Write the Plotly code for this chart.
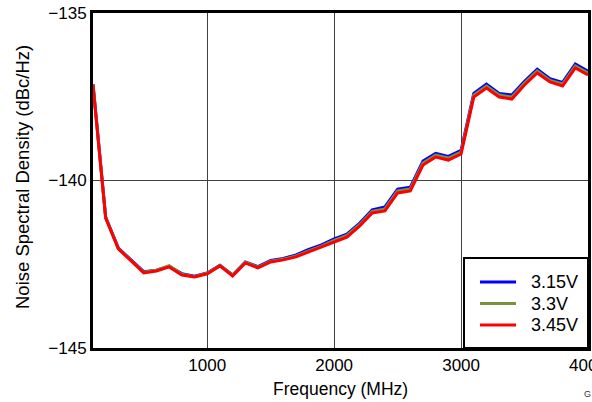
import plotly.graph_objects as go

freq_mhz = [100, 200, 300, 400, 500, 600, 700, 800, 900, 1000,
            1100, 1200, 1300, 1400, 1500, 1600, 1700, 1800, 1900, 2000,
            2100, 2200, 2300, 2400, 2500, 2600, 2700, 2800, 2900, 3000,
            3100, 3200, 3300, 3400, 3500, 3600, 3700, 3800, 3900, 4000]

nsd_315v = [-137.12, -141.10, -142.02, -142.36, -142.72, -142.68, -142.56, -142.78, -142.86, -142.76,
            -142.53, -142.82, -142.43, -142.57, -142.39, -142.33, -142.22, -142.06, -141.92, -141.74,
            -141.60, -141.28, -140.88, -140.79, -140.26, -140.20, -139.42, -139.19, -139.28, -139.10,
            -137.40, -137.12, -137.40, -137.45, -137.04, -136.68, -136.96, -137.07, -136.52, -136.74]

nsd_33v = [-137.13, -141.11, -142.03, -142.38, -142.74, -142.68, -142.54, -142.80, -142.87, -142.77,
           -142.54, -142.83, -142.44, -142.59, -142.41, -142.35, -142.25, -142.10, -141.96, -141.79,
           -141.64, -141.32, -140.92, -140.85, -140.31, -140.25, -139.48, -139.24, -139.33, -139.15,
           -137.45, -137.18, -137.45, -137.51, -137.09, -136.73, -137.01, -137.12, -136.58, -136.79]

nsd_345v = [-137.15, -141.12, -142.04, -142.40, -142.76, -142.70, -142.58, -142.82, -142.88, -142.79,
            -142.55, -142.85, -142.46, -142.61, -142.43, -142.37, -142.28, -142.13, -141.99, -141.84,
            -141.69, -141.36, -140.97, -140.91, -140.37, -140.31, -139.54, -139.30, -139.39, -139.21,
            -137.51, -137.24, -137.51, -137.57, -137.15, -136.79, -137.06, -137.18, -136.64, -136.85]

series_names = ["3.15V", "3.3V", "3.45V"]
series_values = [nsd_315v, nsd_33v, nsd_345v]
series_colors = ["#0000FF", "#77933C", "#FF0000"]

x_ticks = [1000, 2000, 3000, 4000]
y_ticks = [-145, -140, -135]
y_tick_text = ["\u2212145", "\u2212140", "\u2212135"]

FONT = "Liberation Sans, Arial, sans-serif"

# body margin is removed in the page, so the figure fills the window
W, H = 592, 402
# plot area in window pixels: left 93, right 588, top 13, bottom 348
L, T = 93, 13
R = W - 588
B = H - 348
PW, PH = W - L - R, H - T - B


def px(xpix):
    return (xpix - L) / PW


def py(ypix):
    return (H - B - ypix) / PH


fig = go.Figure()
for name, vals, col in zip(series_names, series_values, series_colors):
    fig.add_trace(go.Scatter(x=freq_mhz, y=vals, name=name, mode="lines",
                             line=dict(color=col, width=3), showlegend=False))

shapes = [
    # legend box
    dict(type="rect", xref="paper", yref="paper", x0=px(464), x1=1.0, y0=0.0, y1=py(258),
         fillcolor="white", line=dict(color="black", width=2), layer="above"),
]
annotations = [
    dict(text="Frequency (MHz)", xref="paper", yref="paper", x=px(340), y=py(389),
         xanchor="center", yanchor="middle", showarrow=False, font=dict(size=17.5)),
    dict(text="Noise Spectral Density (dBc/Hz)", xref="paper", yref="paper",
         x=px(23), y=py(177), xanchor="center", yanchor="middle", textangle=-90,
         showarrow=False, font=dict(size=18.5)),
    dict(text="G", xref="paper", yref="paper", x=px(582), y=py(394),
         xanchor="left", yanchor="middle", showarrow=False, font=dict(size=9, color="#333")),
]
row_y = [282, 303.5, 325]
for name, col, ry in zip(series_names, series_colors, row_y):
    shapes.append(dict(type="line", xref="paper", yref="paper", x0=px(480), x1=px(516),
                       y0=py(ry), y1=py(ry), line=dict(color=col, width=3), layer="above"))
    annotations.append(dict(text=name, xref="paper", yref="paper", x=px(529), y=py(ry),
                            xanchor="left", yanchor="middle", showarrow=False,
                            font=dict(size=18)))

fig.update_layout(
    width=W, height=H,
    margin=dict(l=L, r=R, t=T, b=B, autoexpand=False),
    paper_bgcolor="white", plot_bgcolor="white",
    font=dict(family=FONT, size=17, color="black"),
    showlegend=False,
    xaxis=dict(range=[100, 4000], tickvals=x_ticks, showgrid=True, automargin=False,
               gridcolor="#404040", gridwidth=1, showline=True, linecolor="black",
               linewidth=3, mirror=True, ticks="", zeroline=False,
               ticklabeloverflow="allow", tickfont=dict(size=17)),
    yaxis=dict(range=[-145, -135], tickvals=y_ticks, ticktext=y_tick_text, automargin=False,
               showgrid=True, gridcolor="#404040", gridwidth=1, showline=True,
               linecolor="black", linewidth=3, mirror=True, ticks="", zeroline=False,
               ticklabeloverflow="allow", tickfont=dict(size=17)),
    shapes=shapes,
    annotations=annotations,
)

fig.write_html("out.html",
               config={"displayModeBar": False},
               post_script="document.body.style.margin='0px';"
                           "document.body.style.overflow='hidden';")
